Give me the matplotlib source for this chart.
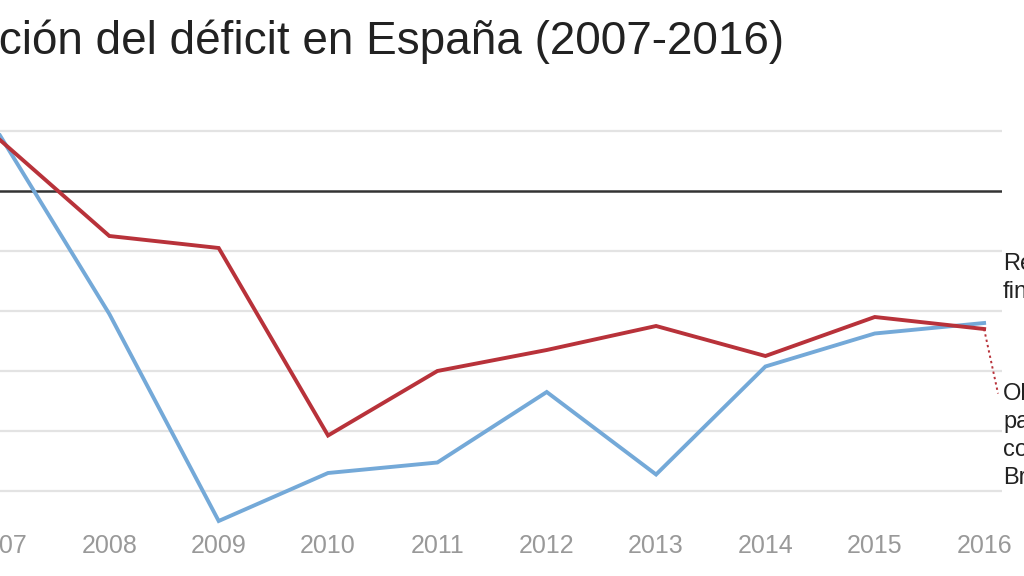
import matplotlib
matplotlib.use("Agg")
import matplotlib.pyplot as plt

years = [2007, 2008, 2009, 2010, 2011, 2012, 2013, 2014, 2015, 2016]
resultado = [1.85, -4.1, -11.0, -9.4, -9.05, -6.7, -9.45, -5.85, -4.75, -4.4]
objetivo = [1.7, -1.5, -1.9, -8.15, -6.0, -5.3, -4.5, -5.5, -4.2, -4.6]
label_resultado = "Resultado\nfinal"
label_objetivo = "Objetivo\npactado\ncon\nBruselas"
title = "Evolución del déficit en España (2007-2016)"
hidden_prefix = "Evolu"
yticks = [2, 0, -2, -4, -6, -8, -10]

W, H = 1024, 576
fig = plt.figure(figsize=(W / 100, H / 100), dpi=100)
plt.rcParams['font.family'] = ['Liberation Sans', 'DejaVu Sans']

ax = fig.add_axes([0, (576 - 530) / 576, 1002 / 1024, (530 - 101) / 576])
ax.set_xlim(2007 + 6 / 110, 2016 + 18 / 110)
ax.set_ylim(-11.3, 3.0)

for v in yticks:
    if v == 0:
        continue
    ax.axhline(v, color="#e3e3e3", lw=1.6, zorder=1)
ax.axhline(0, color="#333333", lw=1.8, zorder=2)

ax.plot(years, resultado, color="#74a9d8", lw=2.8, zorder=3, solid_joinstyle="miter")
ax.plot(years, objetivo, color="#b8323a", lw=2.8, zorder=4, solid_joinstyle="miter")

# dotted connector from last red point to its label
ax.plot([years[-1], 2016 + 14 / 110], [objetivo[-1], -6.75], color="#b8323a",
        lw=1.4, ls=(0, (1.2, 1.6)), zorder=4, clip_on=False)

ax.set_xticks(years)
ax.set_xticklabels([str(y) for y in years], fontsize=18, color="#999999")
ax.tick_params(axis="x", length=0, pad=3)
ax.set_yticks([])
for s in ax.spines.values():
    s.set_visible(False)

# right-side labels (cropped like the reference)
fig.text(1003 / W, 1 - 253 / H, label_resultado, fontsize=17, color="#222222",
         va="top", ha="left", linespacing=1.35)
fig.text(1003 / W, 1 - 383 / H, label_objetivo, fontsize=17, color="#222222",
         va="top", ha="left", linespacing=1.35)

# title, partially cropped on the left as in the reference
fig.canvas.draw()
r = fig.canvas.get_renderer()
tmp = fig.text(0, 0, hidden_prefix, fontsize=33)
wpx = tmp.get_window_extent(renderer=r).width
tmp.remove()
fig.text(-(wpx + 1) / W, 1 - 42 / H, title, fontsize=33, color="#222222",
         va="center", ha="left")

fig.savefig("out.png", dpi=100)
